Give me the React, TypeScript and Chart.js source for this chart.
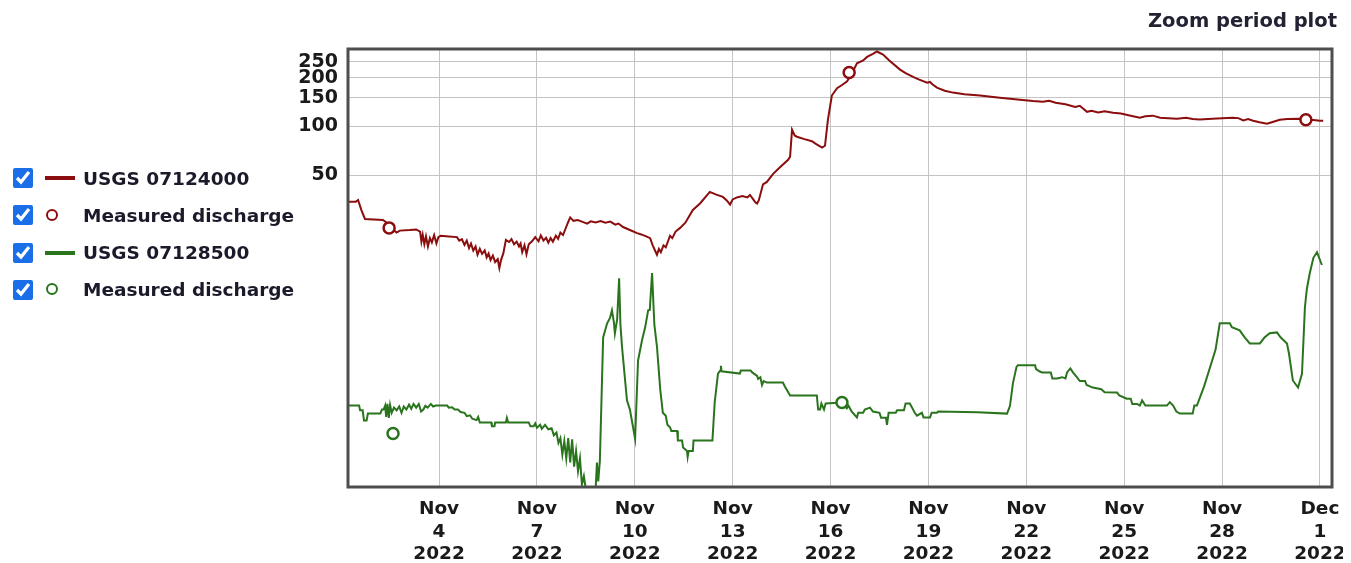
import React, { useEffect, useRef } from "react";
import { Chart, registerables } from "chart.js";

Chart.register(...registerables);

// Days since Nov 1 2022 00:00
const redDays = [0.21,0.45,0.52,0.62,0.73,1.28,1.40,1.55,1.70,1.80,2.10,2.30,2.42,2.46,2.50,2.55,2.60,2.66,2.72,2.78,2.85,2.92,2.98,3.05,3.30,3.55,3.62,3.70,3.78,3.85,3.92,3.98,4.05,4.12,4.18,4.25,4.32,4.40,4.46,4.52,4.58,4.65,4.72,4.80,4.85,4.90,4.97,5.05,5.15,5.22,5.30,5.38,5.45,5.50,5.55,5.62,5.68,5.75,5.85,5.95,6.05,6.12,6.20,6.28,6.35,6.42,6.49,6.58,6.65,6.72,6.80,6.88,6.95,7.02,7.12,7.25,7.40,7.54,7.65,7.80,7.95,8.10,8.25,8.40,8.50,8.64,8.85,9.07,9.20,9.35,9.47,9.55,9.62,9.68,9.74,9.80,9.88,9.95,10.08,10.15,10.25,10.39,10.55,10.78,11.0,11.3,11.5,11.7,11.82,11.92,12.00,12.13,12.30,12.45,12.53,12.62,12.70,12.75,12.80,12.93,13.05,13.24,13.45,13.70,13.76,13.82,13.90,13.97,14.2,14.43,14.55,14.74,14.83,14.92,15.04,15.2,15.35,15.5,15.62,15.81,16.0,16.12,16.3,16.42,16.61,16.8,17.13,17.3,17.53,17.7,17.96,18.05,18.12,18.26,18.5,18.75,19.1,19.58,20.19,20.81,21.2,21.51,21.7,21.9,22.2,22.5,22.64,22.86,23.0,23.2,23.4,23.66,23.9,24.2,24.48,24.65,24.88,25.1,25.35,25.62,25.9,26.1,26.32,26.7,27.0,27.33,27.5,27.65,27.8,27.95,28.15,28.38,28.55,28.77,29.0,29.39,29.57,29.8,30.0,30.1];
const redValues = [34.4,34.4,35.2,30.5,26.9,26.5,25.5,23.5,22.2,22.8,23.0,23.2,22.5,19.5,21.5,18.8,21.0,18.2,20.5,19.3,21.4,19.0,20.8,21.2,21.0,20.8,19.8,20.2,18.6,19.8,17.8,19.0,17.2,18.2,16.2,17.6,16.4,17.2,15.6,16.5,15.0,16.0,14.6,15.2,13.4,15.0,16.5,20.0,19.4,20.2,18.8,19.5,18.2,19.0,16.8,18.5,16.3,18.8,19.6,20.8,19.6,21.3,19.8,20.6,19.2,20.5,19.5,21.2,20.3,22.2,21.4,23.5,25.5,27.5,26.2,26.5,25.8,25.2,26.0,25.6,26.1,25.5,25.9,24.8,25.2,24.0,23.0,22.0,21.6,21.0,20.5,18.5,17.2,16.2,17.6,16.8,18.5,18.0,21.2,20.5,22.5,23.7,25.5,30.6,33.5,39.5,38.0,36.8,35.0,33.0,35.5,36.5,37.2,36.5,37.8,35.8,34.0,33.5,35.0,44.0,45.5,51.0,56.0,62.3,65,95.4,88.0,86.4,83.5,81.0,78.0,74.0,76.0,110,155,172,180,189,205,245,255,268,280,289.5,277,255,224,213,202,195,186.2,188,182,173.4,166,161.6,158,155,150,146,143.5,142,144,140,137,132,134,123,125,122,124,121.5,120,116.5,113.2,115.5,116.5,113,112.5,111.6,113,111,110.5,111.6,112.5,113.2,112.5,109,111,108.4,106,103.9,106.5,110,111,111.6,110,109.5,108.4,108.4];

const redMeasDays = [1.47, 15.57, 29.57];
const redMeasValues = [23.7, 214.7, 110];

const greenDays = [0.21,0.55,0.58,0.66,0.70,0.78,0.82,1.20,1.25,1.30,1.35,1.38,1.42,1.46,1.50,1.55,1.62,1.70,1.78,1.85,1.92,2.00,2.08,2.15,2.22,2.30,2.38,2.45,2.52,2.58,2.65,2.75,2.82,2.90,3.25,3.30,3.40,3.48,3.58,3.66,3.78,3.85,3.95,4.02,4.15,4.20,4.25,4.60,4.62,4.70,4.72,5.05,5.08,5.12,5.75,5.80,5.90,5.95,6.00,6.10,6.15,6.25,6.35,6.45,6.52,6.60,6.66,6.72,6.78,6.84,6.90,6.96,7.02,7.08,7.14,7.20,7.26,7.32,7.38,7.44,7.50,7.80,7.84,7.88,7.93,8.03,8.15,8.24,8.30,8.36,8.39,8.46,8.52,8.56,8.61,8.76,8.85,9.01,9.10,9.22,9.32,9.41,9.46,9.53,9.60,9.68,9.78,9.86,9.95,10.00,10.08,10.12,10.30,10.32,10.45,10.48,10.60,10.62,10.65,10.78,10.80,11.38,11.45,11.55,11.62,11.64,11.66,12.22,12.25,12.55,12.60,12.75,12.78,12.85,12.90,12.95,13.05,13.54,13.60,13.76,14.58,14.62,14.68,14.72,14.80,14.85,15.35,15.50,15.55,15.65,15.81,15.85,16.00,16.05,16.21,16.30,16.50,16.55,16.70,16.73,16.78,17.00,17.04,17.25,17.30,17.43,17.50,17.58,17.65,17.80,17.85,18.05,18.10,18.26,18.30,19.50,20.41,20.50,20.59,20.70,20.74,21.27,21.30,21.40,21.48,21.75,21.80,21.94,22.10,22.20,22.25,22.35,22.43,22.55,22.64,22.80,22.85,23.04,23.30,23.40,23.78,23.85,24.08,24.20,24.25,24.40,24.48,24.55,24.65,25.31,25.40,25.50,25.60,25.71,26.10,26.15,26.23,26.45,26.63,26.80,26.93,27.24,27.30,27.54,27.70,27.85,28.16,28.30,28.46,28.68,28.80,28.99,29.05,29.17,29.33,29.45,29.54,29.60,29.69,29.80,29.91,30.06];
const greenValues = [1.905,1.905,1.78,1.78,1.54,1.54,1.70,1.70,1.80,1.80,1.905,1.62,1.95,1.60,1.92,1.72,1.85,1.78,1.88,1.72,1.88,1.80,1.93,1.82,1.95,1.85,1.95,1.75,1.80,1.90,1.85,1.95,1.88,1.905,1.905,1.85,1.86,1.80,1.80,1.74,1.72,1.64,1.66,1.58,1.55,1.62,1.50,1.50,1.42,1.42,1.50,1.50,1.60,1.50,1.50,1.42,1.42,1.48,1.39,1.45,1.37,1.45,1.36,1.38,1.25,1.30,1.12,1.20,0.95,1.15,0.90,1.20,0.85,1.18,0.80,1.0,0.75,0.90,0.62,0.70,0.58,0.58,0.85,0.65,0.87,5.01,6.1,6.6,7.36,6.2,5.31,6.5,11.6,6.0,4.35,2.05,1.8,1.19,3.61,4.80,5.8,7.36,7.4,12.5,6.0,4.4,2.4,1.72,1.65,1.45,1.40,1.33,1.33,1.16,1.16,1.05,1.0,0.92,1.0,1.0,1.16,1.16,2.0,3.0,3.13,3.35,3.1,3.0,3.13,3.13,3.05,2.90,2.78,2.85,2.55,2.70,2.64,2.64,2.50,2.20,2.20,1.80,1.80,1.96,1.80,1.96,1.99,1.83,1.90,1.75,1.61,1.72,1.72,1.80,1.85,1.75,1.72,1.60,1.60,1.45,1.72,1.72,1.78,1.78,1.96,1.96,1.85,1.72,1.65,1.72,1.61,1.61,1.72,1.72,1.75,1.73,1.70,1.90,2.61,3.30,3.37,3.37,3.20,3.10,3.05,3.05,2.80,2.80,2.85,2.80,3.05,3.23,3.05,2.85,2.70,2.70,2.55,2.46,2.40,2.30,2.29,2.20,2.10,2.10,1.95,1.95,1.905,2.05,1.905,1.905,2.0,1.905,1.75,1.70,1.70,1.905,1.905,2.5,3.27,4.2,6.12,6.12,5.8,5.54,5.0,4.60,4.60,5.0,5.31,5.38,5.0,4.60,4.0,2.72,2.46,2.99,7.69,10.0,12.5,15.5,16.8,14.0];

const greenMeasDays = [1.59, 15.35];
const greenMeasValues = [1.28, 1.99];

const yTickValues = [50, 100, 150, 200, 250];
const xTickDays = [3, 6, 9, 12, 15, 18, 21, 24, 27, 30];
const xTickLabels = [
  ["Nov", "4", "2022"], ["Nov", "7", "2022"], ["Nov", "10", "2022"], ["Nov", "13", "2022"],
  ["Nov", "16", "2022"], ["Nov", "19", "2022"], ["Nov", "22", "2022"], ["Nov", "25", "2022"],
  ["Nov", "28", "2022"], ["Dec", "1", "2022"],
];

const RED = "#8b0d0d";
const GREEN = "#2a741e";
const FONT = "'DejaVu Sans', Verdana, sans-serif";

const toXY = (xs: number[], ys: number[]) => xs.map((x, i) => ({ x, y: ys[i] }));

const framePlugin = {
  id: "frame",
  afterDatasetsDraw(chart: any) {
    const { ctx, chartArea: a } = chart;
    ctx.save();
    ctx.strokeStyle = "#4d4d4d";
    ctx.lineWidth = 3;
    ctx.strokeRect(a.left, a.top, a.right - a.left, a.bottom - a.top);
    ctx.restore();
  },
};

export default function App() {
  const ref = useRef<HTMLCanvasElement | null>(null);

  useEffect(() => {
    if (!ref.current) return;
    const chart = new Chart(ref.current, {
      type: "line",
      data: {
        datasets: [
          { type: "line", label: "USGS 07124000", data: toXY(redDays, redValues), borderColor: RED, borderWidth: 2, pointRadius: 0, tension: 0, order: 2 },
          { type: "scatter", label: "Measured discharge", data: toXY(redMeasDays, redMeasValues), borderColor: RED, backgroundColor: "#ffffff", borderWidth: 2.5, pointRadius: 5.5, order: 0 },
          { type: "line", label: "USGS 07128500", data: toXY(greenDays, greenValues), borderColor: GREEN, borderWidth: 2, pointRadius: 0, tension: 0, order: 1 },
          { type: "scatter", label: "Measured discharge", data: toXY(greenMeasDays, greenMeasValues), borderColor: GREEN, backgroundColor: "#ffffff", borderWidth: 2.5, pointRadius: 5.5, order: 0 },
        ] as any,
      },
      options: {
        animation: false,
        responsive: false,
        devicePixelRatio: 1,
        layout: { padding: { left: 0, right: 0, top: 41, bottom: 0 } },
        plugins: { legend: { display: false }, tooltip: { enabled: false } },
        scales: {
          x: {
            type: "linear",
            min: 0.21,
            max: 30.37,
            afterBuildTicks: (s: any) => { s.ticks = xTickDays.map((v) => ({ value: v })); },
            afterFit: (s: any) => { s.height = 76; s.paddingRight = 11; s.paddingLeft = 0; },
            ticks: {
              autoSkip: false,
              maxRotation: 0,
              padding: 11,
              color: "#1a1a1a",
              font: { family: FONT, size: 18.5, weight: "bold", lineHeight: 1.22 },
              callback: (v: any) => { const i = xTickDays.indexOf(Number(v)); return i >= 0 ? xTickLabels[i] : ""; },
            },
            grid: { color: "#c4c4c4", lineWidth: 1, drawTicks: false },
            border: { display: false },
          },
          y: {
            type: "logarithmic",
            min: 0.6,
            max: 300,
            afterBuildTicks: (s: any) => { s.ticks = yTickValues.map((v) => ({ value: v })); },
            afterFit: (s: any) => { s.width = 340; s.paddingTop = 0; s.paddingBottom = 0; },
            ticks: {
              autoSkip: false,
              padding: 10,
              color: "#1a1a1a",
              font: { family: FONT, size: 19, weight: "bold", lineHeight: 1 },
              callback: (v: any) => String(v),
            },
            grid: { color: "#c4c4c4", lineWidth: 1, drawTicks: false },
            border: { display: false },
          },
        },
      } as any,
      plugins: [framePlugin],
    });
    return () => chart.destroy();
  }, []);

  const legendRows = [
    { label: "USGS 07124000", color: RED, kind: "line" },
    { label: "Measured discharge", color: RED, kind: "circle" },
    { label: "USGS 07128500", color: GREEN, kind: "line" },
    { label: "Measured discharge", color: GREEN, kind: "circle" },
  ];

  return (
    <div style={{ position: "relative", width: 1335, height: 555, fontFamily: FONT }}>
      <canvas ref={ref} width={1335} height={555} style={{ position: "absolute", left: 0, top: 0 }} />
      <div style={{ position: "absolute", right: 6, top: 1, fontWeight: "bold", fontSize: 19.5, color: "#222233" }}>
        Zoom period plot
      </div>
      {legendRows.map((r, i) => (
        <div key={i} style={{ position: "absolute", left: 5, top: 160 + i * 37.3, height: 20, display: "flex", alignItems: "center" }}>
          <input type="checkbox" defaultChecked style={{ width: 20, height: 20, margin: 0, accentColor: "#1a6fe8" }} />
          <div style={{ width: 50, height: 20, position: "relative" }}>
            {r.kind === "line" ? (
              <div style={{ position: "absolute", left: 12, top: 8, width: 30, height: 4, background: r.color }} />
            ) : (
              <div style={{ position: "absolute", left: 13, top: 3.5, width: 8, height: 8, borderRadius: "50%", border: `2.5px solid ${r.color}`, background: "#fff" }} />
            )}
          </div>
          <span style={{ fontWeight: "bold", fontSize: 18.5, color: "#1a1a2a", whiteSpace: "nowrap" }}>{r.label}</span>
        </div>
      ))}
    </div>
  );
}
